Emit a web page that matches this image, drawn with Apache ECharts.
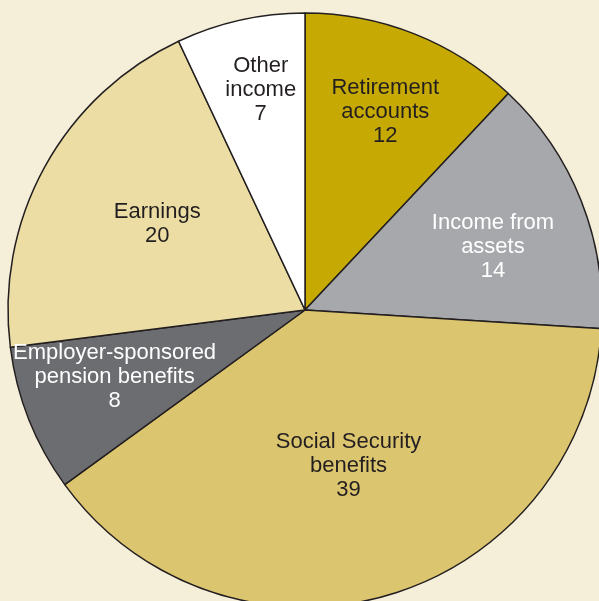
<!DOCTYPE html>
<html>
<head>
<meta charset="utf-8">
<script src="https://cdn.jsdelivr.net/npm/echarts@6/dist/echarts.min.js"></script>
<style>
html,body{margin:0;padding:0;background:#f5efd9;}
#chart{width:599px;height:601px;}
</style>
</head>
<body>
<div id="chart"></div>
<script>
const categories = ["Retirement\naccounts", "Income from\nassets", "Social Security\nbenefits", "Employer-sponsored\npension benefits", "Earnings", "Other\nincome"];
const values = [12, 14, 39, 8, 20, 7];

const sliceColors = ["#c6a902", "#a7a8ac", "#dcc56f", "#6c6d71", "#ebdda3", "#ffffff"];
const labelColors = ["#231f20", "#ffffff", "#231f20", "#ffffff", "#231f20", "#231f20"];
const labelRadius = [216, 199, 160, 201, 172, 226];
const labelAngleShift = [0.2, 2.4, 0.4, 2.9, 2.0, 1.3];

const CX = 305, CY = 310, R = 297;

const total = values.reduce((a, b) => a + b, 0);
const midAngles = [];
let acc = 0;
values.forEach(v => { midAngles.push((acc + v / 2) / total * 360); acc += v; });

const chart = echarts.init(document.getElementById('chart'), null, {renderer: 'canvas'});
chart.setOption({
  backgroundColor: '#f5efd9',
  animation: false,
  series: [{
    type: 'pie',
    center: [CX, CY],
    radius: [0, R],
    startAngle: 90,
    clockwise: true,
    avoidLabelOverlap: false,
    itemStyle: {borderColor: '#231f20', borderWidth: 1.5},
    label: {
      show: true,
      position: 'inside',
      formatter: '{b}\n{c}',
      fontFamily: 'Liberation Sans, Arial, sans-serif',
      fontSize: 22,
      lineHeight: 24,
      align: 'center'
    },
    labelLine: {show: false},
    emphasis: {disabled: true},
    labelLayout: function (p) {
      const i = p.dataIndex;
      const a = (midAngles[i] + labelAngleShift[i]) * Math.PI / 180;
      const tx = CX + labelRadius[i] * Math.sin(a);
      const ty = CY - labelRadius[i] * Math.cos(a);
      const lx = p.labelRect.x + p.labelRect.width / 2;
      const ly = p.labelRect.y + p.labelRect.height / 2;
      return {dx: tx - lx, dy: ty - ly + 2};
    },
    data: categories.map((c, i) => ({
      name: c,
      value: values[i],
      itemStyle: {color: sliceColors[i]},
      label: {color: labelColors[i]}
    }))
  }]
});
</script>
</body>
</html>
